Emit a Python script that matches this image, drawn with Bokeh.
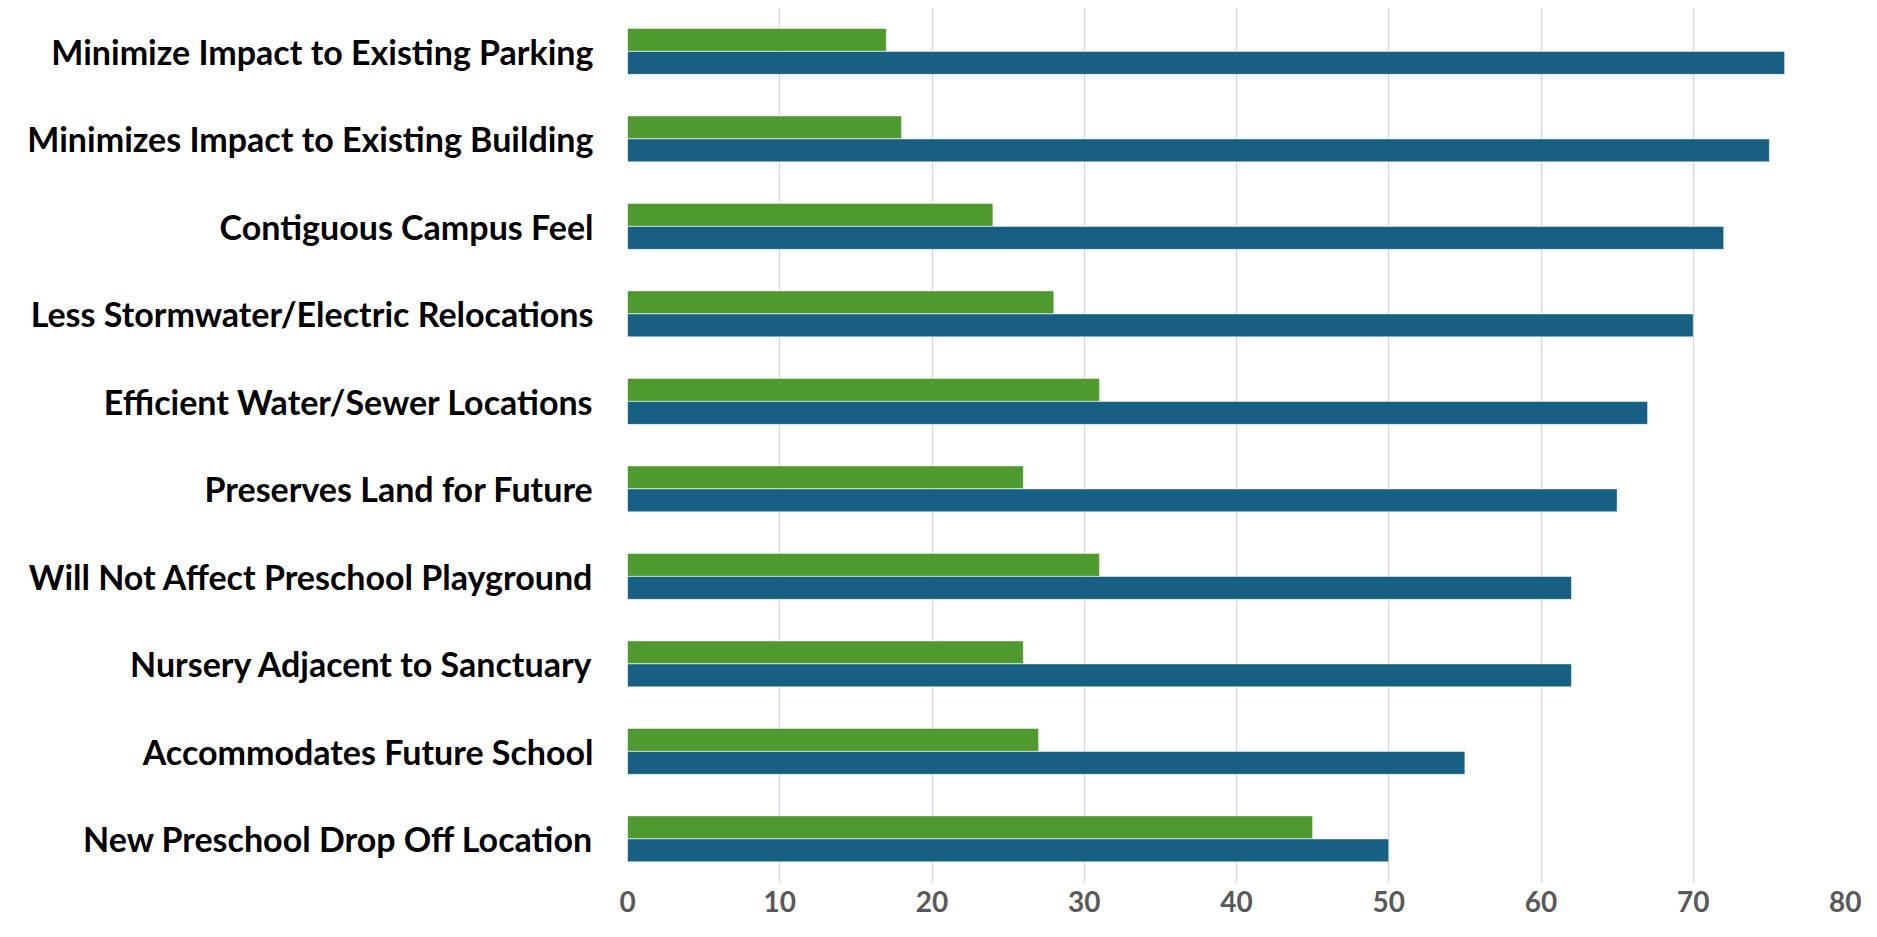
from bokeh.plotting import figure
from bokeh.models import Range1d, FactorRange, FixedTicker, ColumnDataSource
from bokeh.transform import dodge
from bokeh.embed import file_html
from bokeh.resources import INLINE

categories = [
    "Minimize Impact to Existing Parking",
    "Minimizes Impact to Existing Building",
    "Contiguous Campus Feel",
    "Less Stormwater/Electric Relocations",
    "Efficient Water/Sewer Locations",
    "Preserves Land for Future",
    "Will Not Affect Preschool Playground",
    "Nursery Adjacent to Sanctuary",
    "Accommodates Future School",
    "New Preschool Drop Off Location",
]
series_green = [17, 18, 24, 28, 31, 26, 31, 26, 27, 45]
series_blue = [76, 75, 72, 70, 67, 65, 62, 62, 55, 50]
x_ticks = [0, 10, 20, 30, 40, 50, 60, 70, 80]

source = ColumnDataSource(dict(cat=categories, green=series_green, blue=series_blue))

p = figure(
    width=1861, height=921,
    y_range=FactorRange(*reversed(categories), range_padding=0),
    x_range=Range1d(0, 80),
    output_backend="svg", toolbar_location=None,
    min_border_left=627, min_border_right=16, min_border_top=7, min_border_bottom=39,
)
p.outline_line_color = None
p.background_fill_color = "white"
p.border_fill_color = "white"

p.hbar(y=dodge("cat", 0.13, range=p.y_range), right="green", left=0, height=0.262,
       source=source, fill_color="#4E9A2F", line_color="white", line_alpha=0.5, line_width=1)
p.hbar(y=dodge("cat", -0.133, range=p.y_range), right="blue", left=0, height=0.262,
       source=source, fill_color="#176083", line_color="white", line_alpha=0.5, line_width=1)

p.xaxis.ticker = FixedTicker(ticks=x_ticks)
p.xaxis.axis_line_color = None
p.xaxis.major_tick_line_color = None
p.xaxis.minor_tick_line_color = None
p.xaxis.major_tick_out = 0
p.xaxis.major_label_standoff = 8
p.xaxis.major_label_text_font = "Lato"
p.xaxis.major_label_text_font_style = "bold"
p.xaxis.major_label_text_font_size = "28px"
p.xaxis.major_label_text_color = "#595959"

p.yaxis.axis_line_color = None
p.yaxis.major_tick_line_color = None
p.yaxis.minor_tick_line_color = None
p.yaxis.major_tick_out = 0
p.yaxis.major_label_standoff = 34
p.yaxis.major_label_text_font = "Lato"
p.yaxis.major_label_text_font_style = "bold"
p.yaxis.major_label_text_font_size = "34px"
p.yaxis.major_label_text_color = "black"

p.xgrid.grid_line_color = "#D9D9D9"
p.xgrid.grid_line_width = 1.5
p.ygrid.grid_line_color = None

open("out.html", "w").write(file_html(p, INLINE))
